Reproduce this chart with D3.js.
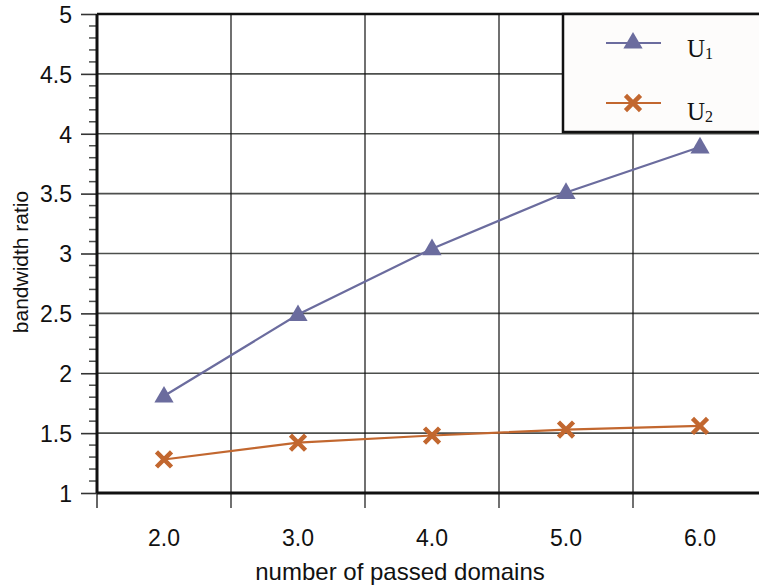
<!DOCTYPE html>
<html>
<head>
<meta charset="utf-8">
<script src="https://cdn.jsdelivr.net/npm/d3@7"></script>
<style>
  body { margin: 0; background: #fff; }
  svg { display: block; font-family: "Liberation Sans", Arial, sans-serif; }
</style>
</head>
<body>
<div id="chart"></div>
<script>
// chart data
var categories = ["2.0", "3.0", "4.0", "5.0", "6.0"];
var u1Values = [1.81, 2.49, 3.04, 3.51, 3.89];
var u2Values = [1.28, 1.42, 1.48, 1.53, 1.56];
var yTicks = [1, 1.5, 2, 2.5, 3, 3.5, 4, 4.5, 5];

var W = 759, H = 586;
var margin = {top: 14, left: 97, bottom: 93};
var plotW = 670, plotH = H - margin.top - margin.bottom;

var svg = d3.select("#chart").append("svg")
  .attr("width", W).attr("height", H);

var x = d3.scaleBand().domain(categories).range([margin.left, margin.left + plotW]);
var y = d3.scaleLinear().domain([1, 5]).range([margin.top + plotH, margin.top]);

// horizontal grid
svg.append("g").selectAll("line")
  .data(yTicks.slice(1, -1))
  .enter().append("line")
    .attr("x1", margin.left).attr("x2", margin.left + plotW)
    .attr("y1", function(d) { return y(d); }).attr("y2", function(d) { return y(d); })
    .attr("stroke", "#4d4f4d").attr("stroke-width", 1.6);

// vertical grid (band boundaries)
svg.append("g").selectAll("line")
  .data(categories.slice(1))
  .enter().append("line")
    .attr("x1", function(d) { return x(d); }).attr("x2", function(d) { return x(d); })
    .attr("y1", margin.top).attr("y2", margin.top + plotH + 15)
    .attr("stroke", "#111").attr("stroke-width", 1.2);

// minor y ticks
var minor = d3.range(1, 5.001, 0.1).filter(function(v) { return Math.abs(v*2 - Math.round(v*2)) > 0.01; });
svg.append("g").selectAll("line")
  .data(minor)
  .enter().append("line")
    .attr("x1", margin.left - 8).attr("x2", margin.left)
    .attr("y1", function(d) { return y(d); }).attr("y2", function(d) { return y(d); })
    .attr("stroke", "#4d4f4d").attr("stroke-width", 1.5);

// y axis
var yAxis = svg.append("g")
  .attr("transform", "translate(" + margin.left + ",0)")
  .call(d3.axisLeft(y).tickValues(yTicks).tickSize(16).tickPadding(9)
    .tickFormat(function(d) { return d3.format("")(d); }));
yAxis.select(".domain").remove();
yAxis.attr("font-family", null).attr("font-size", null);
yAxis.selectAll(".tick line").attr("stroke", "#333").attr("stroke-width", 1.6);
yAxis.selectAll("text").style("font-size", "23px").attr("dy", "0.36em").attr("fill", "#111");

// x axis labels
var xAxis = svg.append("g")
  .attr("transform", "translate(0," + (margin.top + plotH) + ")")
  .call(d3.axisBottom(x).tickSize(0).tickPadding(37));
xAxis.select(".domain").remove();
xAxis.attr("font-family", null).attr("font-size", null);
xAxis.selectAll("text").style("font-size", "23px").attr("fill", "#111");

// left tick at axis corner
svg.append("line")
  .attr("x1", margin.left).attr("x2", margin.left)
  .attr("y1", margin.top + plotH).attr("y2", margin.top + plotH + 15)
  .attr("stroke", "#333").attr("stroke-width", 1.5);

// frame
svg.append("line").attr("x1", margin.left).attr("x2", margin.left + plotW)
  .attr("y1", margin.top).attr("y2", margin.top).attr("stroke", "#111").attr("stroke-width", 2.5);
svg.append("line").attr("x1", margin.left).attr("x2", margin.left + plotW)
  .attr("y1", margin.top + plotH).attr("y2", margin.top + plotH).attr("stroke", "#111").attr("stroke-width", 3);
svg.append("line").attr("x1", margin.left).attr("x2", margin.left)
  .attr("y1", margin.top).attr("y2", margin.top + plotH).attr("stroke", "#111").attr("stroke-width", 3);

// series
var cx = function(d, i) { return x(categories[i]) + x.bandwidth() / 2; };
var line = d3.line().x(cx).y(function(d) { return y(d); });

var c1 = "#6b6c9e", c2 = "#c2672f";

svg.append("path").datum(u1Values).attr("d", line)
  .attr("fill", "none").attr("stroke", c1).attr("stroke-width", 2.2);
svg.append("path").datum(u2Values).attr("d", line)
  .attr("fill", "none").attr("stroke", c2).attr("stroke-width", 2.2);

var tri = d3.symbol().type(d3.symbolTriangle).size(160);
var cross = d3.symbol().type(d3.symbolX).size(150);

svg.append("g").selectAll("path")
  .data(u1Values).enter().append("path")
    .attr("d", tri)
    .attr("transform", function(d, i) { return "translate(" + cx(d, i) + "," + (y(d) + 1) + ")"; })
    .attr("fill", c1);
svg.append("g").selectAll("path")
  .data(u2Values).enter().append("path")
    .attr("d", cross)
    .attr("transform", function(d, i) { return "translate(" + cx(d, i) + "," + y(d) + ")"; })
    .attr("fill", "none").attr("stroke", c2).attr("stroke-width", 4.5);

// legend
var lg = svg.append("g");
lg.append("rect").attr("x", 563).attr("y", 14).attr("width", 220).attr("height", 118)
  .attr("fill", "#fdfcfb").attr("stroke", "#111").attr("stroke-width", 2.5);
var legendItems = [
  {name: "U", sub: "1", color: c1, sym: tri, fill: c1, stroke: "none", ly: 43, ty: 57},
  {name: "U", sub: "2", color: c2, sym: cross, fill: "none", stroke: c2, ly: 103, ty: 120}
];
legendItems.forEach(function(it) {
  lg.append("line").attr("x1", 606).attr("x2", 661).attr("y1", it.ly).attr("y2", it.ly)
    .attr("stroke", it.color).attr("stroke-width", 2.2);
  lg.append("path").attr("d", it.sym)
    .attr("transform", "translate(633," + it.ly + ")")
    .attr("fill", it.fill).attr("stroke", it.stroke).attr("stroke-width", 4.5);
  var t = lg.append("text").attr("x", 687).attr("y", it.ty)
    .style("font-family", "'Liberation Serif', 'DejaVu Serif', serif")
    .style("font-size", "25px").attr("fill", "#111");
  t.append("tspan").text(it.name);
  t.append("tspan").style("font-size", "16px").attr("dy", 2).text(it.sub);
});

// axis titles
svg.append("text")
  .attr("transform", "translate(28," + 262 + ") rotate(-90)")
  .attr("text-anchor", "middle").style("font-size", "21px").attr("fill", "#111")
  .text("bandwidth ratio");
svg.append("text")
  .attr("x", 400).attr("y", 580)
  .attr("text-anchor", "middle").style("font-size", "24px").attr("fill", "#111")
  .text("number of passed domains");
</script>
</body>
</html>
